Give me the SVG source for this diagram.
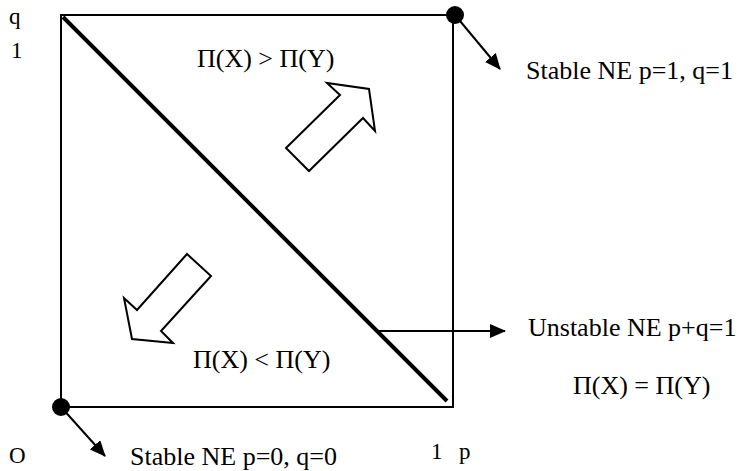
<svg xmlns="http://www.w3.org/2000/svg" width="743" height="471" viewBox="0 0 743 471">
<style>
text{font-family:"Liberation Serif","Times New Roman",serif;font-size:26px;fill:#000}
text.ax{font-size:23px}
.thin{stroke:#000;stroke-width:2;fill:none}
.hollow{stroke:#000;stroke-width:2;fill:#fff;stroke-linejoin:miter}
</style>
<defs>
<marker id="ah" viewBox="0 0 16 14" refX="15" refY="7" markerWidth="16" markerHeight="14" markerUnits="userSpaceOnUse" orient="auto">
<path d="M0,0 L16,7 L0,14 z" fill="#000"/>
</marker>
</defs>
<rect width="743" height="471" fill="#fff"/>
<g id="box">
<rect x="61" y="15" width="392" height="392" class="thin"/>
<line x1="63" y1="17" x2="447" y2="401" stroke="#000" stroke-width="4"/>
</g>
<g id="connectors">
<line x1="455" y1="15" x2="500" y2="69" class="thin" marker-end="url(#ah)"/>
<line x1="61" y1="407" x2="105" y2="456" class="thin" marker-end="url(#ah)"/>
<line x1="377" y1="331" x2="505" y2="331" class="thin" marker-end="url(#ah)"/>
</g>
<g id="ne11"><circle cx="455" cy="15" r="9" fill="#000"/></g>
<g id="ne00"><circle cx="61" cy="407" r="9" fill="#000"/></g>
<g id="arrow-up"><polygon class="hollow" points="286,148 340,95 327,83 369,89 375,131 363,118 309,171"/></g>
<g id="arrow-down"><polygon class="hollow" points="187,254 211,276 161,331 173,343 132,339 124,298 137,310"/></g>
<g id="labels">
<text class="ax" x="9" y="24">q</text>
<text class="ax" x="11" y="58">1</text>
<text class="ax" x="9" y="463">O</text>
<text class="ax" x="431" y="459">1</text>
<text class="ax" x="459" y="459">p</text>
<text x="197" y="67">Π(X) &gt; Π(Y)</text>
<text x="193" y="368">Π(X) &lt; Π(Y)</text>
<text x="573" y="394">Π(X) = Π(Y)</text>
<text x="526" y="79">Stable NE p=1, q=1</text>
<text x="528" y="336">Unstable NE p+q=1</text>
<text x="130" y="465">Stable NE p=0, q=0</text>
</g>
</svg>
